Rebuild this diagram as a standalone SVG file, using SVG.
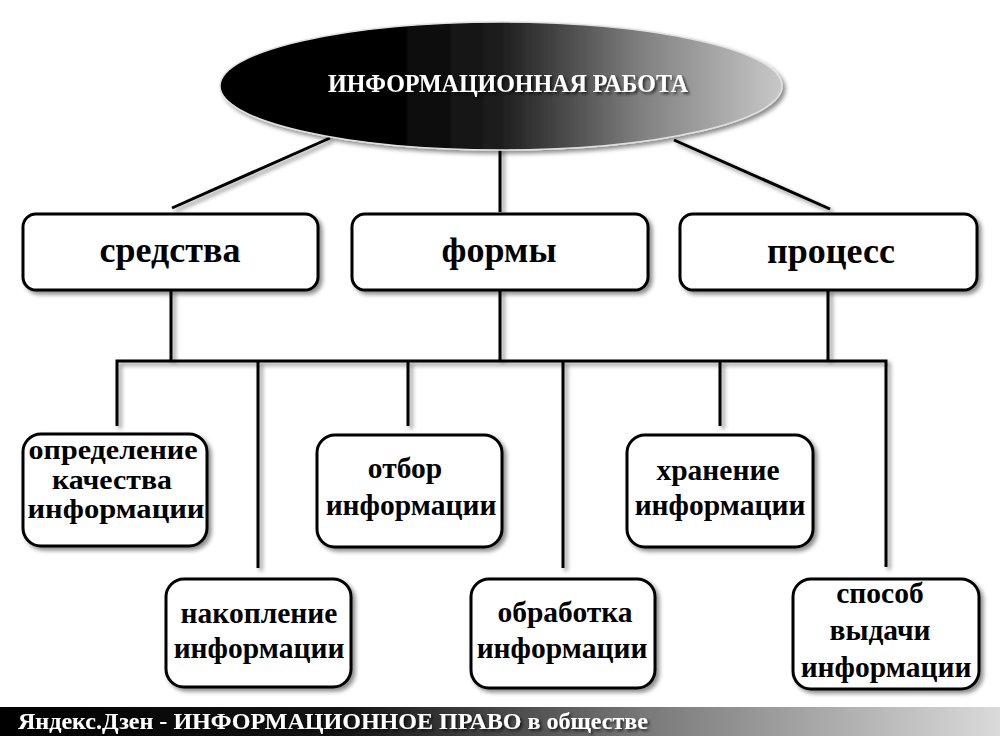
<svg xmlns="http://www.w3.org/2000/svg" width="1000" height="736" viewBox="0 0 1000 736">
<defs>
  <linearGradient id="gEll" x1="0" y1="0" x2="1" y2="0">
    <stop offset="0" stop-color="#000"/>
    <stop offset="0.3" stop-color="#020202"/>
    <stop offset="0.5" stop-color="#1e1e1e"/>
    <stop offset="0.75" stop-color="#808080"/>
    <stop offset="1" stop-color="#c8c8c8"/>
  </linearGradient>
  <linearGradient id="gBar" x1="0" y1="0" x2="1" y2="0">
    <stop offset="0" stop-color="#000"/>
    <stop offset="0.35" stop-color="#151515"/>
    <stop offset="0.65" stop-color="#7a7a7a"/>
    <stop offset="1" stop-color="#dadada"/>
  </linearGradient>
  <filter id="sh" x="-10%" y="-10%" width="130%" height="140%">
    <feDropShadow dx="3" dy="3" stdDeviation="2" flood-color="#000" flood-opacity="0.45"/>
  </filter>
  <filter id="tsh" x="-5%" y="-20%" width="115%" height="160%">
    <feDropShadow dx="2" dy="2" stdDeviation="1.5" flood-color="#000" flood-opacity="0.7"/>
  </filter>
</defs>
<style>
  .box { fill: #fff; stroke: #000; stroke-width: 3; filter: url(#sh); }
  .ln { stroke: #000; stroke-width: 3; fill: none; }
  .t1 { font-family: "Liberation Serif", "Times New Roman", serif; font-weight: bold; font-size: 36px; text-anchor: middle; fill: #000; }
  .t2 { font-family: "Liberation Serif", "Times New Roman", serif; font-weight: bold; font-size: 29.5px; text-anchor: middle; fill: #000; }
  .t3 { font-family: "Liberation Serif", "Times New Roman", serif; font-weight: bold; font-size: 26.5px; text-anchor: middle; fill: #000; }
  .tw { font-family: "Liberation Serif", "Times New Roman", serif; font-weight: bold; fill: #fff; filter: url(#tsh); }
</style>
<rect width="1000" height="736" fill="#fff"/>

<g id="connectors" filter="url(#sh)">
  <line class="ln" x1="330" y1="138" x2="172" y2="208"/>
  <line class="ln" x1="500" y1="148" x2="500" y2="212"/>
  <line class="ln" x1="674" y1="140" x2="830" y2="209"/>
  <line class="ln" x1="171" y1="290" x2="171" y2="361"/>
  <line class="ln" x1="500" y1="290" x2="500" y2="361"/>
  <line class="ln" x1="828" y1="290" x2="828" y2="361"/>
  <polyline class="ln" points="117,426 117,361 886,361 886,567"/>
  <line class="ln" x1="258" y1="361" x2="258" y2="568"/>
  <line class="ln" x1="408" y1="361" x2="408" y2="426"/>
  <line class="ln" x1="563" y1="361" x2="563" y2="568"/>
  <line class="ln" x1="720" y1="361" x2="720" y2="426"/>
</g>

<g id="root">
  <ellipse cx="501" cy="86" rx="281" ry="64" fill="url(#gEll)" stroke="#e0e0e0" stroke-width="1.5" filter="url(#sh)"/>
  <text class="tw" x="508" y="92" font-size="25" text-anchor="middle" textLength="360" lengthAdjust="spacingAndGlyphs">ИНФОРМАЦИОННАЯ РАБОТА</text>
</g>

<g id="sredstva">
  <rect class="box" x="23" y="214" width="295" height="76" rx="13"/>
  <text class="t1" x="170" y="262">средства</text>
</g>
<g id="formy">
  <rect class="box" x="352" y="214" width="296" height="76" rx="13"/>
  <text class="t1" x="499" y="262">формы</text>
</g>
<g id="process">
  <rect class="box" x="680" y="214" width="297" height="76" rx="13"/>
  <text class="t1" x="831" y="263">процесс</text>
</g>

<g id="opredelenie">
  <rect class="box" x="23" y="434" width="184" height="112" rx="18"/>
  <text class="t3" x="113" y="459" textLength="169" lengthAdjust="spacingAndGlyphs">определение</text>
  <text class="t3" x="112" y="489" textLength="120" lengthAdjust="spacingAndGlyphs">качества</text>
  <text class="t3" x="116" y="518" textLength="177" lengthAdjust="spacingAndGlyphs">информации</text>
</g>
<g id="nakoplenie">
  <rect class="box" x="166" y="579" width="185" height="108" rx="18"/>
  <text class="t2" x="259" y="623">накопление</text>
  <text class="t2" x="259" y="658">информации</text>
</g>
<g id="otbor">
  <rect class="box" x="317" y="435" width="185" height="112" rx="18"/>
  <text class="t2" x="405" y="478">отбор</text>
  <text class="t2" x="411" y="515">информации</text>
</g>
<g id="obrabotka">
  <rect class="box" x="471" y="579" width="184" height="109" rx="18"/>
  <text class="t2" x="565" y="622">обработка</text>
  <text class="t2" x="562" y="658">информации</text>
</g>
<g id="hranenie">
  <rect class="box" x="627" y="435" width="186" height="112" rx="18"/>
  <text class="t2" x="718" y="480">хранение</text>
  <text class="t2" x="720" y="515">информации</text>
</g>
<g id="sposob">
  <rect class="box" x="793" y="579" width="186" height="110" rx="18"/>
  <text class="t2" x="880" y="603">способ</text>
  <text class="t2" x="880" y="640">выдачи</text>
  <text class="t2" x="886" y="677">информации</text>
</g>

<g id="footer">
  <rect x="0" y="707" width="1000" height="29" fill="url(#gBar)"/>
  <text class="tw" x="18" y="729" font-size="23" textLength="630" lengthAdjust="spacingAndGlyphs">Яндекс.Дзен - ИНФОРМАЦИОННОЕ ПРАВО в обществе</text>
</g>
</svg>
